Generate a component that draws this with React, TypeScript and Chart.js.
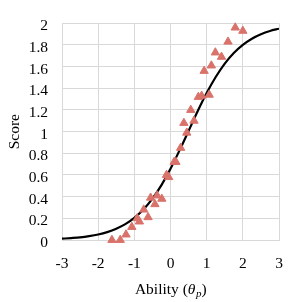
import React, { useEffect, useRef } from "react";
import { Chart, registerables } from "chart.js";

Chart.register(...registerables);

// Observed (triangle) points: ability, score
const obsAbility = [-1.62, -1.39, -1.23, -1.07, -0.92, -0.86, -0.74, -0.62, -0.55, -0.43, -0.37, -0.24, -0.11, -0.05, 0.1, 0.15, 0.28, 0.37, 0.45, 0.56, 0.65, 0.77, 0.86, 1.07, 0.93, 1.13, 1.24, 1.41, 1.59, 1.79, 2.0];
const obsScore = [0.0, 0.0, 0.05, 0.12, 0.2, 0.17, 0.28, 0.21, 0.39, 0.33, 0.41, 0.38, 0.6, 0.58, 0.72, 0.72, 0.85, 1.08, 0.99, 1.2, 1.1, 1.32, 1.33, 1.34, 1.56, 1.61, 1.73, 1.69, 1.83, 1.96, 1.93];

// Expected score curve
const curveAbility = [-3, -2.75, -2.5, -2.25, -2, -1.75, -1.5, -1.25, -1, -0.75, -0.5, -0.25, 0, 0.25, 0.5, 0.75, 1, 1.25, 1.5, 1.75, 2, 2.25, 2.5, 2.75, 3];
const curveScore = [0.012, 0.018, 0.025, 0.036, 0.051, 0.073, 0.104, 0.146, 0.204, 0.281, 0.382, 0.507, 0.657, 0.827, 1.007, 1.188, 1.356, 1.504, 1.628, 1.726, 1.801, 1.858, 1.899, 1.929, 1.95];

const xTickLabels = ["-3", "-2", "-1", "0", "1", "2", "3"];
const yTickLabels = ["0", "0.2", "0.4", "0.6", "0.8", "1", "1.2", "1.4", "1.6", "1.8", "2"];

const FONT = "'Liberation Serif', 'Times New Roman', serif";
const FS = 15.5;

export default function App() {
  const ref = useRef<HTMLCanvasElement | null>(null);
  useEffect(() => {
    if (!ref.current) return;
    const titlePlugin = {
      id: "xTitle",
      afterDraw(chart: any) {
        const ctx = chart.ctx;
        const cx = (chart.chartArea.left + chart.chartArea.right) / 2;
        const y = 290;
        const parts = [
          { t: "Ability (", f: `${FS}px ${FONT}`, dy: 0 },
          { t: "θ", f: `italic ${FS}px ${FONT}`, dy: 0 },
          { t: "p", f: `italic 11px ${FONT}`, dy: 4 },
          { t: ")", f: `${FS}px ${FONT}`, dy: 0 },
        ];
        ctx.save();
        ctx.textBaseline = "middle";
        ctx.fillStyle = "#000";
        let total = 0;
        for (const p of parts) { ctx.font = p.f; total += ctx.measureText(p.t).width; }
        let x = cx - total / 2;
        ctx.textAlign = "left";
        for (const p of parts) {
          ctx.font = p.f;
          ctx.fillText(p.t, x, y + p.dy);
          x += ctx.measureText(p.t).width + (p.t === "θ" ? 0.5 : 0);
        }
        ctx.restore();
      },
    };
    const chart = new Chart(ref.current, {
      type: "scatter",
      data: {
        datasets: [
          {
            label: "Observed",
            data: obsAbility.map((x, i) => ({ x, y: obsScore[i] })),
            pointStyle: "triangle",
            pointRadius: 4.8,
            pointBackgroundColor: "#d9726a",
            pointBorderColor: "#d9726a",
            pointBorderWidth: 1,
            showLine: false,
            clip: false as any,
          },
          {
            label: "Expected",
            data: curveAbility.map((x, i) => ({ x, y: curveScore[i] })),
            showLine: true,
            borderColor: "#000",
            borderWidth: 2.2,
            pointRadius: 0,
            tension: 0.4,
            cubicInterpolationMode: "monotone",
          },
        ],
      },
      options: {
        animation: false,
        responsive: false,
        layout: { padding: { top: 18, right: 23, left: 0, bottom: 0 } },
        plugins: { legend: { display: false }, tooltip: { enabled: false } },
        scales: {
          x: {
            type: "linear",
            min: -3,
            max: 3,
            afterFit: (s: any) => { s.height = 62; },
            ticks: {
              stepSize: 1,
              padding: 15,
              color: "#000",
              font: { family: FONT, size: FS },
              callback: (v: any) => xTickLabels[Math.round(Number(v) + 3)] ?? "",
            },
            grid: { color: "#d9d9d9", lineWidth: 1, drawTicks: false },
            border: { color: "#d9d9d9" },
          },
          y: {
            type: "linear",
            min: 0,
            max: 2,
            afterFit: (s: any) => { s.width = 62; },
            ticks: {
              stepSize: 0.2,
              padding: 14,
              labelOffset: 3,
              color: "#000",
              font: { family: FONT, size: FS },
              callback: (v: any) => yTickLabels[Math.round(Number(v) * 5)] ?? "",
            },
            title: {
              display: true,
              text: "Score",
              color: "#000",
              font: { family: FONT, size: FS },
              padding: { top: 6, bottom: 0 },
            },
            grid: { color: "#d9d9d9", lineWidth: 1, drawTicks: false },
            border: { color: "#d9d9d9" },
          },
        },
      },
      plugins: [titlePlugin],
    });
    return () => chart.destroy();
  }, []);
  return (
    <div style={{ position: "fixed", left: 0, top: 0, width: 302, height: 302, background: "#fff" }}>
      <canvas ref={ref} width={302} height={302} style={{ width: 302, height: 302 }} />
    </div>
  );
}
